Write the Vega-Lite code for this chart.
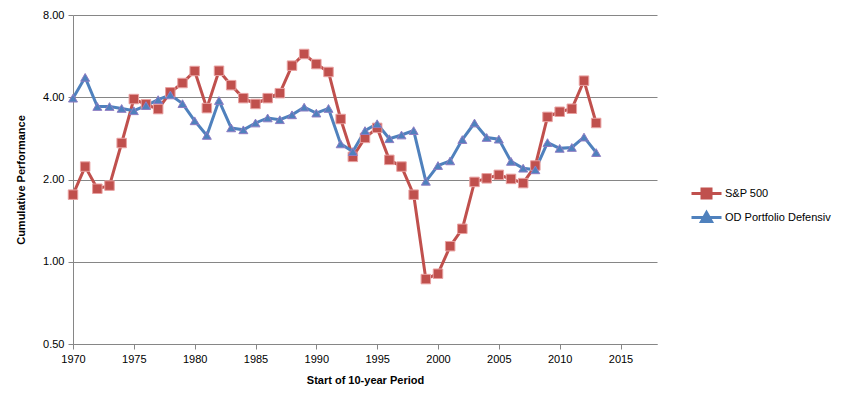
{
  "$schema": "https://vega.github.io/schema/vega-lite/v6.json",
  "autosize": {"type": "none"},
  "width": 584,
  "height": 329,
  "padding": {"left": 73, "top": 15, "right": 196, "bottom": 64},
  "background": "white",
  "config": {
    "view": {"stroke": null},
    "font": "Liberation Sans",
    "axis": {"labelFont": "Liberation Sans", "titleFont": "Liberation Sans", "labelFontSize": 11, "labelColor": "#000000", "titleFontSize": 11, "titleFontWeight": "bold", "titleColor": "#000000", "domainColor": "#868686", "tickColor": "#868686", "gridColor": "#868686", "labelFlush": false}
  },
  "data": {"values": [
    {"year": 1970, "series": "S&P 500", "value": 1.76},
    {"year": 1971, "series": "S&P 500", "value": 2.23},
    {"year": 1972, "series": "S&P 500", "value": 1.85},
    {"year": 1973, "series": "S&P 500", "value": 1.90},
    {"year": 1974, "series": "S&P 500", "value": 2.72},
    {"year": 1975, "series": "S&P 500", "value": 3.94},
    {"year": 1976, "series": "S&P 500", "value": 3.77},
    {"year": 1977, "series": "S&P 500", "value": 3.62},
    {"year": 1978, "series": "S&P 500", "value": 4.17},
    {"year": 1979, "series": "S&P 500", "value": 4.51},
    {"year": 1980, "series": "S&P 500", "value": 4.99},
    {"year": 1981, "series": "S&P 500", "value": 3.65},
    {"year": 1982, "series": "S&P 500", "value": 5.00},
    {"year": 1983, "series": "S&P 500", "value": 4.43},
    {"year": 1984, "series": "S&P 500", "value": 3.97},
    {"year": 1985, "series": "S&P 500", "value": 3.78},
    {"year": 1986, "series": "S&P 500", "value": 3.97},
    {"year": 1987, "series": "S&P 500", "value": 4.14},
    {"year": 1988, "series": "S&P 500", "value": 5.22},
    {"year": 1989, "series": "S&P 500", "value": 5.76},
    {"year": 1990, "series": "S&P 500", "value": 5.29},
    {"year": 1991, "series": "S&P 500", "value": 4.95},
    {"year": 1992, "series": "S&P 500", "value": 3.33},
    {"year": 1993, "series": "S&P 500", "value": 2.42},
    {"year": 1994, "series": "S&P 500", "value": 2.84},
    {"year": 1995, "series": "S&P 500", "value": 3.09},
    {"year": 1996, "series": "S&P 500", "value": 2.36},
    {"year": 1997, "series": "S&P 500", "value": 2.23},
    {"year": 1998, "series": "S&P 500", "value": 1.76},
    {"year": 1999, "series": "S&P 500", "value": 0.864},
    {"year": 2000, "series": "S&P 500", "value": 0.904},
    {"year": 2001, "series": "S&P 500", "value": 1.14},
    {"year": 2002, "series": "S&P 500", "value": 1.32},
    {"year": 2003, "series": "S&P 500", "value": 1.96},
    {"year": 2004, "series": "S&P 500", "value": 2.02},
    {"year": 2005, "series": "S&P 500", "value": 2.08},
    {"year": 2006, "series": "S&P 500", "value": 2.01},
    {"year": 2007, "series": "S&P 500", "value": 1.94},
    {"year": 2008, "series": "S&P 500", "value": 2.25},
    {"year": 2009, "series": "S&P 500", "value": 3.39},
    {"year": 2010, "series": "S&P 500", "value": 3.54},
    {"year": 2011, "series": "S&P 500", "value": 3.63},
    {"year": 2012, "series": "S&P 500", "value": 4.60},
    {"year": 2013, "series": "S&P 500", "value": 3.22},
    {"year": 1970, "series": "OD Portfolio Defensiv", "value": 3.97},
    {"year": 1971, "series": "OD Portfolio Defensiv", "value": 4.73},
    {"year": 1972, "series": "OD Portfolio Defensiv", "value": 3.70},
    {"year": 1973, "series": "OD Portfolio Defensiv", "value": 3.70},
    {"year": 1974, "series": "OD Portfolio Defensiv", "value": 3.64},
    {"year": 1975, "series": "OD Portfolio Defensiv", "value": 3.57},
    {"year": 1976, "series": "OD Portfolio Defensiv", "value": 3.73},
    {"year": 1977, "series": "OD Portfolio Defensiv", "value": 3.92},
    {"year": 1978, "series": "OD Portfolio Defensiv", "value": 4.08},
    {"year": 1979, "series": "OD Portfolio Defensiv", "value": 3.79},
    {"year": 1980, "series": "OD Portfolio Defensiv", "value": 3.28},
    {"year": 1981, "series": "OD Portfolio Defensiv", "value": 2.90},
    {"year": 1982, "series": "OD Portfolio Defensiv", "value": 3.89},
    {"year": 1983, "series": "OD Portfolio Defensiv", "value": 3.09},
    {"year": 1984, "series": "OD Portfolio Defensiv", "value": 3.04},
    {"year": 1985, "series": "OD Portfolio Defensiv", "value": 3.22},
    {"year": 1986, "series": "OD Portfolio Defensiv", "value": 3.36},
    {"year": 1987, "series": "OD Portfolio Defensiv", "value": 3.31},
    {"year": 1988, "series": "OD Portfolio Defensiv", "value": 3.45},
    {"year": 1989, "series": "OD Portfolio Defensiv", "value": 3.68},
    {"year": 1990, "series": "OD Portfolio Defensiv", "value": 3.50},
    {"year": 1991, "series": "OD Portfolio Defensiv", "value": 3.64},
    {"year": 1992, "series": "OD Portfolio Defensiv", "value": 2.70},
    {"year": 1993, "series": "OD Portfolio Defensiv", "value": 2.53},
    {"year": 1994, "series": "OD Portfolio Defensiv", "value": 3.02},
    {"year": 1995, "series": "OD Portfolio Defensiv", "value": 3.20},
    {"year": 1996, "series": "OD Portfolio Defensiv", "value": 2.82},
    {"year": 1997, "series": "OD Portfolio Defensiv", "value": 2.91},
    {"year": 1998, "series": "OD Portfolio Defensiv", "value": 3.02},
    {"year": 1999, "series": "OD Portfolio Defensiv", "value": 1.97},
    {"year": 2000, "series": "OD Portfolio Defensiv", "value": 2.25},
    {"year": 2001, "series": "OD Portfolio Defensiv", "value": 2.34},
    {"year": 2002, "series": "OD Portfolio Defensiv", "value": 2.80},
    {"year": 2003, "series": "OD Portfolio Defensiv", "value": 3.22},
    {"year": 2004, "series": "OD Portfolio Defensiv", "value": 2.85},
    {"year": 2005, "series": "OD Portfolio Defensiv", "value": 2.81},
    {"year": 2006, "series": "OD Portfolio Defensiv", "value": 2.33},
    {"year": 2007, "series": "OD Portfolio Defensiv", "value": 2.20},
    {"year": 2008, "series": "OD Portfolio Defensiv", "value": 2.17},
    {"year": 2009, "series": "OD Portfolio Defensiv", "value": 2.73},
    {"year": 2010, "series": "OD Portfolio Defensiv", "value": 2.60},
    {"year": 2011, "series": "OD Portfolio Defensiv", "value": 2.62},
    {"year": 2012, "series": "OD Portfolio Defensiv", "value": 2.86},
    {"year": 2013, "series": "OD Portfolio Defensiv", "value": 2.51}
  ]},
  "encoding": {
    "x": {"field": "year", "type": "quantitative",
      "scale": {"domain": [1970, 2018], "nice": false, "zero": false},
      "axis": {"values": [1970, 1975, 1980, 1985, 1990, 1995, 2000, 2005, 2010, 2015], "format": "d", "grid": false, "title": "Start of 10-year Period", "tickSize": 5, "labelPadding": 4, "titlePadding": 10}},
    "y": {"field": "value", "type": "quantitative",
      "scale": {"type": "log", "base": 2, "domain": [0.5, 8], "nice": false},
      "axis": {"values": [0.5, 1, 2, 4, 8], "format": ".2f", "grid": true, "title": "Cumulative Performance", "tickSize": 5, "labelPadding": 4, "titlePadding": 16}}
  },
  "layer": [
    {"mark": {"type": "line", "strokeWidth": 3},
      "encoding": {
        "color": {"field": "series", "type": "nominal",
          "scale": {"domain": ["S&P 500", "OD Portfolio Defensiv"], "range": ["#C0504D", "#4F81BD"]},
          "legend": {"title": null, "orient": "none", "legendX": 622, "legendY": 167, "symbolSize": 400, "symbolStrokeWidth": 3, "symbolOpacity": 1, "labelFontSize": 11, "labelFont": "Liberation Sans", "labelColor": "#000000", "labelOffset": 7, "rowPadding": 2,
            "encode": {"symbols": {"update": {
              "shape": {"signal": "datum.value === 'S&P 500' ? 'M-1.5,0H1.5M-0.45,-0.45H0.45V0.45H-0.45Z' : 'M-1.5,0H1.5M0,-0.5L0.5,0.4H-0.5Z'"},
              "fill": {"signal": "datum.value === 'S&P 500' ? '#C0504D' : '#4F81BD'"},
              "stroke": {"signal": "datum.value === 'S&P 500' ? '#C0504D' : '#4F81BD'"},
              "opacity": {"value": 1}, "fillOpacity": {"value": 1}, "strokeOpacity": {"value": 1}, "strokeWidth": {"value": 3}}}}}}
      }},
    {"transform": [{"filter": "datum.series === 'S&P 500'"}],
      "mark": {"type": "point", "shape": "square", "filled": true, "opacity": 1, "size": 90, "strokeWidth": 1, "fill": "#C0504D", "stroke": "#E8A0A0"}},
    {"transform": [{"filter": "datum.series === 'OD Portfolio Defensiv'"}],
      "mark": {"type": "point", "shape": "triangle-up", "filled": true, "opacity": 1, "size": 80, "strokeWidth": 1, "fill": "#4F81BD", "stroke": "#8E7CC3"}}
  ]
}
